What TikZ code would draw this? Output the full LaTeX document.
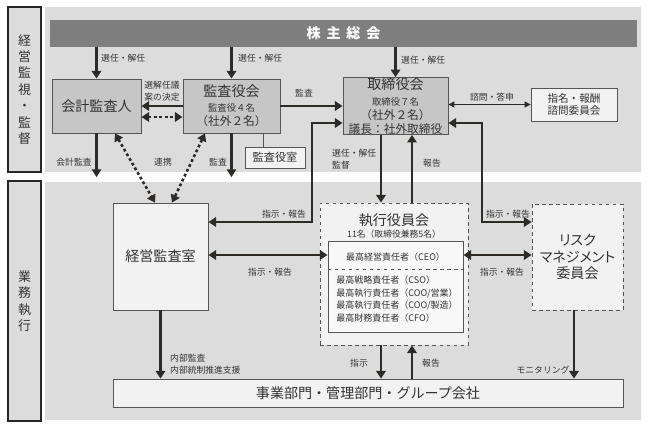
\documentclass[tikz,border=0pt]{standalone}
\usepackage{fontspec}
\setmainfont{Noto Sans CJK JP}
\newfontfamily\propfont{Noto Sans CJK JP}[RawFeature=+palt]
\usetikzlibrary{arrows.meta}
\definecolor{bandc}{HTML}{DCDCDC}
\definecolor{barc}{HTML}{7F7F7F}
\definecolor{midc}{HTML}{C6C6C6}
\definecolor{paper}{HTML}{F2F2F2}
\definecolor{ink}{HTML}{2E2B27}
\definecolor{boxedge}{HTML}{555555}
\definecolor{txt}{HTML}{333333}
\tikzset{
  box/.style={draw=boxedge,line width=0.7pt,inner sep=0pt,align=center,text=txt},
  sidebox/.style={draw=black!85,line width=2.2pt,fill=bandc,inner sep=0pt,align=center,text=txt,font=\fontsize{11}{14}\selectfont},
  ttl/.style={text=txt,font=\fontsize{12}{14}\selectfont},
  lbl/.style={inner sep=0pt,text=txt,align=left,font=\fontsize{7.5}{10.2}\selectfont},
  arr/.style={draw=ink,line width=2.2pt,-{Triangle[length=6.5pt,width=8pt]}},
  darr/.style={arr,{Triangle[length=6.5pt,width=8pt]}-{Triangle[length=6.5pt,width=8pt]}},
  dotarr/.style={darr,dash pattern=on 2.4pt off 2.2pt},
  thinarr/.style={draw=ink,line width=1pt,{Triangle[length=5pt,width=5pt]}-{Triangle[length=5pt,width=5pt]}},
}
\begin{document}
\begin{tikzpicture}[x=0.03cm,y=-0.03cm]
\useasboundingbox(0,0)rectangle(648,427);
% bands
\fill[bandc](45,7)rectangle(641,172);
\fill[bandc](45,182)rectangle(641,420);
\node[sidebox,minimum width=0.99cm,minimum height=4.95cm](watch)at(24.5,89.5){経\\営\\監\\視\\・\\監\\督};
\node[sidebox,minimum width=0.99cm,minimum height=7.2cm](execution)at(24.5,301){業\\務\\執\\行};
% top part
\node[fill=barc,minimum width=17.61cm,minimum height=0.81cm,inner sep=0pt,text=white,font=\fontsize{12}{14}\selectfont\bfseries](meeting)at(343.5,33.5){株\hspace{5pt}主\hspace{5pt}総\hspace{5pt}会};
\node[box,fill=midc,minimum width=2.67cm,minimum height=1.62cm,ttl](auditor)at(96.5,106){会計監査人};
\node[box,fill=midc,minimum width=2.91cm,minimum height=1.62cm](audboard)at(231.5,106){\fontsize{12}{14}\selectfont 監査役会\\[1pt]\fontsize{8}{9.5}\selectfont 監査役４名\\（社外２名）};
\node[box,fill=paper,minimum width=1.8cm,minimum height=0.63cm,font=\fontsize{9.5}{11}\selectfont](audstaff)at(275,157.5){監査役室};
\node[box,fill=midc,minimum width=3.15cm,minimum height=1.62cm](board)at(395.5,106){\fontsize{12}{14}\selectfont 取締役会\\[1.5pt]\fontsize{8}{10.2}\selectfont 取締役７名\\（社外２名）\\議長：社外取締役};
\node[box,fill=paper,minimum width=2.58cm,minimum height=0.99cm,font=\fontsize{9}{11}\selectfont](advisory)at(574,104.5){指名・報酬\\諮問委員会};
% bottom part
\node[box,fill=paper,minimum width=2.85cm,minimum height=3.21cm,ttl](mgmtaudit)at(160.5,256.5){経営監査室};
\node[box,dashed,fill=paper,minimum width=4.44cm,minimum height=4.26cm](officers)at(394,274){};
\node[ttl,inner sep=0pt](officersttl)at(394,220){執行役員会};
\node[inner sep=0pt,text=txt,font=\fontsize{7.5}{9}\selectfont](officerssub)at(394,234){11名（取締役兼務5名）};
\node[box,fill=white!50!paper,minimum width=4.05cm,minimum height=2.73cm](chiefs)at(395.5,286.5){};
\node[inner sep=0pt,text=txt,font=\fontsize{7.7}{10.8}\selectfont](ceo)at(395.5,257){最高経営責任者（CEO）};
\node[inner sep=0pt,text=txt,align=left,font=\fontsize{7.7}{10.8}\selectfont](cxo)at(397,299){最高戦略責任者（CSO）\\最高執行責任者（COO/営業）\\最高執行責任者（COO/製造）\\最高財務責任者（CFO）};
\node[box,dashed,fill=paper,minimum width=2.73cm,minimum height=3.18cm,font=\propfont\fontsize{12}{14}\selectfont](riskcom)at(577.5,257){リスク\\マネジメント\\委員会};
\node[box,fill=paper,minimum width=15.3cm,minimum height=0.84cm,ttl](units)at(368,393){事業部門・管理部門・グループ会社};
% helper coordinates
\coordinate(k1)at(312,222);\coordinate(k2)at(312,123);
\coordinate(r1)at(482,123);\coordinate(r2)at(482,222);
\coordinate(y117)at(0,117);\coordinate(y177)at(0,177);
\coordinate(y255)at(0,255);\coordinate(y269)at(0,269);
\coordinate(x263)at(263,0);\coordinate(x381)at(381,0);
\coordinate(x412)at(412,0);\coordinate(x574)at(574,0);
\coordinate(d1)at(115,0);\coordinate(d2)at(155,0);
\coordinate(d3)at(205,0);\coordinate(d4)at(172,0);
% connectors
\draw[arr](meeting.south-|auditor)--(auditor.north);
\draw[arr](meeting.south-|audboard)--(audboard.north);
\draw[arr](meeting.south-|board)--(board.north);
\draw[arr](audboard.west)--(auditor.east);
\draw[dotarr](auditor.east|-y117)--(audboard.west|-y117);
\draw[arr](audboard.east)--(board.west);
\draw[thinarr](board.east|-advisory)--(advisory.west);
\draw[darr](mgmtaudit.east|-k1)--(k1)--(k2)--(board.west|-k2);
\draw[darr](riskcom.west|-r2)--(r2)--(r1)--(board.east|-r1);
\draw[arr](auditor.south)--(auditor.south|-y177);
\draw[arr](audboard.south)--(audboard.south|-y177);
\draw[draw=boxedge,line width=0.7pt](audboard.south-|x263)--(audstaff.north-|x263);
\draw[dotarr](auditor.south-|d1)--(mgmtaudit.north-|d2);
\draw[dotarr](audboard.south-|d3)--(mgmtaudit.north-|d4);
\draw[arr](board.south-|x381)--(officers.north-|x381);
\draw[arr](officers.north-|x412)--(board.south-|x412);
\draw[darr](mgmtaudit.east|-y255)--(chiefs.west|-y255);
\draw[darr](chiefs.east|-y255)--(riskcom.west|-y255);
\draw[draw=boxedge,line width=0.6pt,dashed](chiefs.west|-y269)--(chiefs.east|-y269);
\draw[arr](mgmtaudit.south)--(units.north-|mgmtaudit.south);
\draw[arr](officers.south-|x381)--(units.north-|x381);
\draw[arr](units.north-|x412)--(officers.south-|x412);
\draw[arr](riskcom.south-|x574)--(units.north-|x574);
% labels
\node[lbl,anchor=west](sel1)at(101,58){選任・解任};
\node[lbl,anchor=west](sel2)at(238,58){選任・解任};
\node[lbl,anchor=west](sel3)at(401,60){選任・解任};
\node[lbl](propose)at(162,91){選解任議\\案の決定};
\node[lbl](audit1)at(304,93){監査};
\node[lbl](consult)at(492,97){諮問・答申};
\node[lbl](acct)at(74,162){会計監査};
\node[lbl](link)at(163,162){連携};
\node[lbl](audit2)at(218,162){監査};
\node[lbl,anchor=west](supervise)at(332,159){選任・解任\\監督};
\node[lbl](report1)at(432,163){報告};
\node[lbl](instr1)at(284,214){指示・報告};
\node[lbl](instr2)at(508,214){指示・報告};
\node[lbl](instr3)at(270,272){指示・報告};
\node[lbl](instr4)at(502,272){指示・報告};
\node[lbl,anchor=west](internal)at(170,364){内部監査\\内部統制推進支援};
\node[lbl](instr5)at(359,363){指示};
\node[lbl](report2)at(431,363){報告};
\node[lbl](monitor)at(543,370){モニタリング};
\end{tikzpicture}
\end{document}
